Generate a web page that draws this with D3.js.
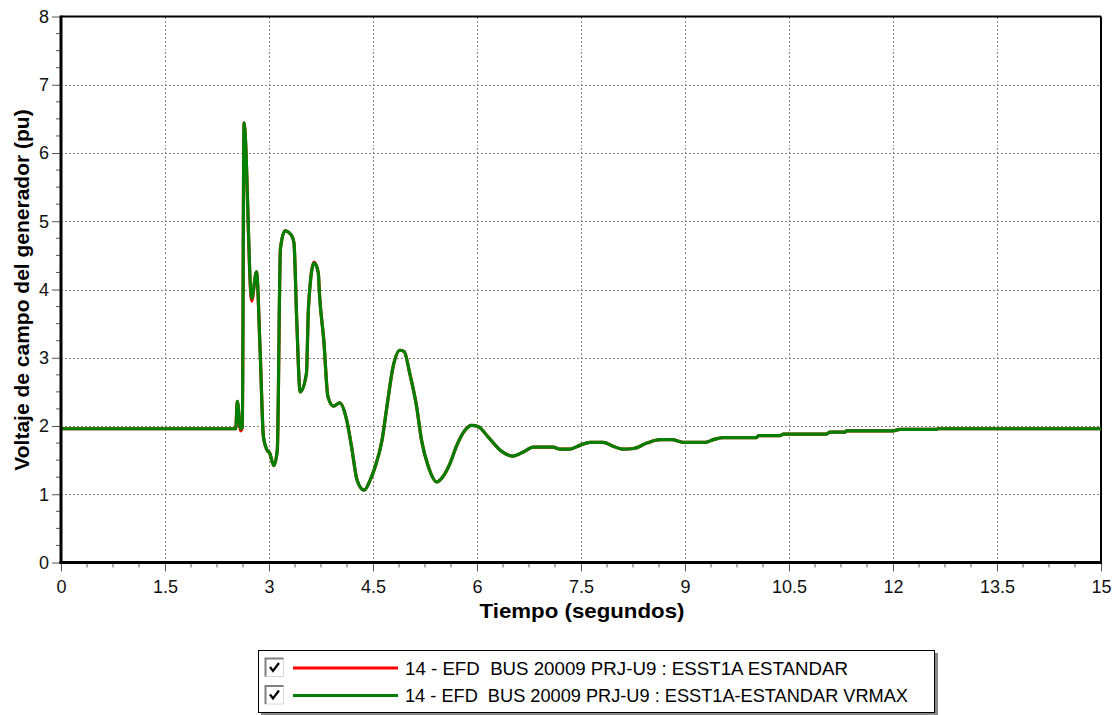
<!DOCTYPE html>
<html>
<head>
<meta charset="utf-8">
<script src="https://cdn.jsdelivr.net/npm/d3@7"></script>
<style>
  html, body { margin: 0; padding: 0; background: #fff; }
  svg { display: block; font-family: Arial, "Liberation Sans", sans-serif; }
</style>
</head>
<body>
<svg id="chart" width="1118" height="715"></svg>
<script>
// Simulation time (s) and generator field voltage (pu) for both exciter models
const tiempo = [0, 2.52, 2.543, 2.59, 2.615, 2.64, 2.75, 2.82, 2.87, 2.92, 2.97, 3.01, 3.07, 3.12, 3.165,
  3.23, 3.32, 3.36, 3.40, 3.45, 3.54, 3.57, 3.65, 3.71, 3.73, 3.79, 3.85, 3.93, 4.02, 4.12, 4.19, 4.27,
  4.37, 4.46, 4.53, 4.63, 4.70, 4.79, 4.89, 4.95, 5.03, 5.13, 5.20, 5.30, 5.42, 5.51, 5.61, 5.71, 5.83,
  5.92, 6.02, 6.16, 6.33, 6.52, 6.67, 6.81, 7.10, 7.20, 7.34, 7.49, 7.63, 7.82, 7.97, 8.11, 8.26, 8.45,
  8.64, 8.81, 8.98, 9.29, 9.41, 9.55, 10.03, 10.06, 10.37, 10.42, 11.04, 11.09, 11.31, 11.33, 12.0,
  12.10, 12.63, 12.65, 15];

const efdEstandar = [1.96, 1.96, 2.36, 1.93, 1.98, 6.44, 3.83, 4.26, 3.16, 1.84, 1.65, 1.60, 1.42, 1.65, 4.60,
  4.86, 4.80, 4.68, 3.55, 2.50, 2.77, 3.75, 4.40, 4.25, 3.90, 3.26, 2.43, 2.29, 2.34, 2.09, 1.70, 1.21,
  1.06, 1.21, 1.40, 1.79, 2.28, 2.87, 3.11, 3.09, 2.77, 2.28, 1.79, 1.40, 1.18, 1.26, 1.45, 1.72, 1.94,
  2.01, 1.99, 1.84, 1.65, 1.56, 1.62, 1.69, 1.69, 1.66, 1.66, 1.72, 1.76, 1.76, 1.70, 1.66, 1.67, 1.75,
  1.80, 1.80, 1.76, 1.76, 1.80, 1.83, 1.83, 1.86, 1.86, 1.88, 1.88, 1.91, 1.91, 1.93, 1.93,
  1.95, 1.95, 1.96, 1.96];

const efdVrmax = [1.96, 1.96, 2.36, 1.96, 1.98, 6.44, 3.87, 4.26, 3.16, 1.84, 1.65, 1.60, 1.42, 1.65, 4.60,
  4.86, 4.80, 4.68, 3.55, 2.50, 2.77, 3.75, 4.39, 4.25, 3.90, 3.26, 2.43, 2.29, 2.34, 2.09, 1.70, 1.21,
  1.06, 1.21, 1.40, 1.79, 2.28, 2.87, 3.11, 3.09, 2.77, 2.28, 1.79, 1.40, 1.18, 1.26, 1.45, 1.72, 1.94,
  2.01, 1.99, 1.84, 1.65, 1.56, 1.62, 1.69, 1.69, 1.66, 1.66, 1.72, 1.76, 1.76, 1.70, 1.66, 1.67, 1.75,
  1.80, 1.80, 1.76, 1.76, 1.80, 1.83, 1.83, 1.86, 1.86, 1.88, 1.88, 1.91, 1.91, 1.93, 1.93,
  1.95, 1.95, 1.96, 1.96];

const xTicks = [0, 1.5, 3, 4.5, 6, 7.5, 9, 10.5, 12, 13.5, 15];
const yTicks = [0, 1, 2, 3, 4, 5, 6, 7, 8];

const seriesNames = [
  "14 - EFD  BUS 20009 PRJ-U9 : ESST1A ESTANDAR",
  "14 - EFD  BUS 20009 PRJ-U9 : ESST1A-ESTANDAR VRMAX"
];
const seriesColors = ["#ff0000", "#008000"];

const svg = d3.select("#chart");
const plotL = 61, plotR = 1101, plotT = 16.5, plotB = 562.5;

const x = d3.scaleLinear().domain([0, 15]).range([plotL, plotR]);
const y = d3.scaleLinear().domain([0, 8]).range([plotB, plotT]);

const fmt = d => String(d);

// Grid
const grid = svg.append("g").attr("stroke", "#808080").attr("stroke-width", 1)
  .attr("stroke-dasharray", "2,2").attr("shape-rendering", "crispEdges");
grid.selectAll("line.gx").data(xTicks.slice(1, -1)).join("line")
  .attr("x1", d => Math.round(x(d)) + 0.5).attr("x2", d => Math.round(x(d)) + 0.5)
  .attr("y1", plotT).attr("y2", plotB);
grid.selectAll("line.gy").data(yTicks.slice(1, -1)).join("line")
  .attr("y1", d => Math.round(y(d)) + 0.5).attr("y2", d => Math.round(y(d)) + 0.5)
  .attr("x1", plotL).attr("x2", plotR);

// Minor ticks
const xMinor = d3.range(0, 15.0001, 0.375).filter(v => Math.abs(v / 1.5 - Math.round(v / 1.5)) > 1e-6);
const yMinor = d3.range(0, 8.0001, 0.25).filter(v => Math.abs(v - Math.round(v)) > 1e-6);

const xAxis = d3.axisBottom(x).tickValues(xTicks).tickFormat(fmt).tickSize(9).tickPadding(5);
const yAxis = d3.axisLeft(y).tickValues(yTicks).tickFormat(fmt).tickSize(9).tickPadding(3);

const gx = svg.append("g").attr("transform", `translate(0,${plotB})`).call(xAxis);
const gy = svg.append("g").attr("transform", `translate(${plotL},0)`).call(yAxis);
[gx, gy].forEach(g => {
  g.select(".domain").remove();
  g.selectAll(".tick line").attr("stroke", "#555").attr("stroke-width", 1);
  g.selectAll(".tick text").attr("font-size", 18).attr("fill", "#111")
    .attr("font-family", "Arial, 'Liberation Sans', sans-serif");
});
gx.selectAll(".tick text").attr("dy", "0.9em");

svg.append("g").attr("stroke", "#555").attr("stroke-width", 1)
  .selectAll("line").data(xMinor).join("line")
  .attr("x1", d => x(d)).attr("x2", d => x(d)).attr("y1", plotB).attr("y2", plotB + 5);
svg.append("g").attr("stroke", "#555").attr("stroke-width", 1)
  .selectAll("line").data(yMinor).join("line")
  .attr("y1", d => y(d)).attr("y2", d => y(d)).attr("x1", plotL - 5).attr("x2", plotL);

// Frame: thick left/bottom axes, thinner top/right
svg.append("line").attr("x1", plotL).attr("x2", plotR).attr("y1", plotT).attr("y2", plotT)
  .attr("stroke", "#000").attr("stroke-width", 2);
svg.append("line").attr("x1", plotR).attr("x2", plotR).attr("y1", plotT).attr("y2", plotB)
  .attr("stroke", "#000").attr("stroke-width", 2);

// Series
const line = d3.line().x((d, i) => x(tiempo[i])).y(d => y(d)).curve(d3.curveMonotoneX);
[efdEstandar, efdVrmax].forEach((vals, k) => {
  svg.append("path").datum(vals)
    .attr("fill", "none").attr("stroke", seriesColors[k]).attr("stroke-width", 3.2)
    .attr("stroke-linejoin", "round").attr("stroke-linecap", "butt")
    .attr("d", line);
});

svg.append("line").attr("x1", plotL).attr("x2", plotL).attr("y1", plotT - 1).attr("y2", plotB + 1.5)
  .attr("stroke", "#000").attr("stroke-width", 3);
svg.append("line").attr("x1", plotL - 1.5).attr("x2", plotR + 1).attr("y1", plotB).attr("y2", plotB)
  .attr("stroke", "#000").attr("stroke-width", 3);

// Axis titles
svg.append("text").attr("x", 582).attr("y", 618).attr("text-anchor", "middle")
  .attr("font-size", 21).attr("font-weight", "bold").attr("fill", "#000")
  .attr("textLength", 205).attr("lengthAdjust", "spacingAndGlyphs")
  .text("Tiempo (segundos)");
svg.append("text").attr("transform", "translate(29,290) rotate(-90)").attr("text-anchor", "middle")
  .attr("font-size", 21).attr("font-weight", "bold").attr("fill", "#000")
  .text("Voltaje de campo del generador (pu)");

// Legend
const lg = svg.append("g");
lg.append("rect").attr("x", 261).attr("y", 653).attr("width", 677).attr("height", 62).attr("fill", "#888");
lg.append("rect").attr("x", 258.5).attr("y", 650.5).attr("width", 676).attr("height", 62)
  .attr("fill", "#fff").attr("stroke", "#000").attr("stroke-width", 1);

const legendTextLen = [443, 503];
seriesNames.forEach((name, k) => {
  const cy = 668 + k * 27.5;
  const g = lg.append("g");
  // checkbox
  g.append("rect").attr("x", 265.5).attr("y", cy - 9.5).attr("width", 18).attr("height", 18)
    .attr("fill", "#fff").attr("stroke", "#d8d8d8").attr("stroke-width", 1);
  g.append("path").attr("d", `M265.5,${cy + 8.5} V${cy - 9.5} H283.5`)
    .attr("fill", "none").attr("stroke", "#808080").attr("stroke-width", 2);
  g.append("path").attr("d", `M270,${cy - 1} L273,${cy + 3} L279,${cy - 5}`)
    .attr("fill", "none").attr("stroke", "#000").attr("stroke-width", 2.2);
  g.append("line").attr("x1", 293).attr("x2", 398).attr("y1", cy).attr("y2", cy)
    .attr("stroke", seriesColors[k]).attr("stroke-width", 3.2);
  g.append("text").attr("x", 405).attr("y", cy + 6.5).attr("font-size", 18).attr("fill", "#000")
    .attr("xml:space", "preserve").style("white-space", "pre")
    .attr("textLength", legendTextLen[k]).attr("lengthAdjust", "spacingAndGlyphs")
    .text(name);
});
</script>
</body>
</html>
